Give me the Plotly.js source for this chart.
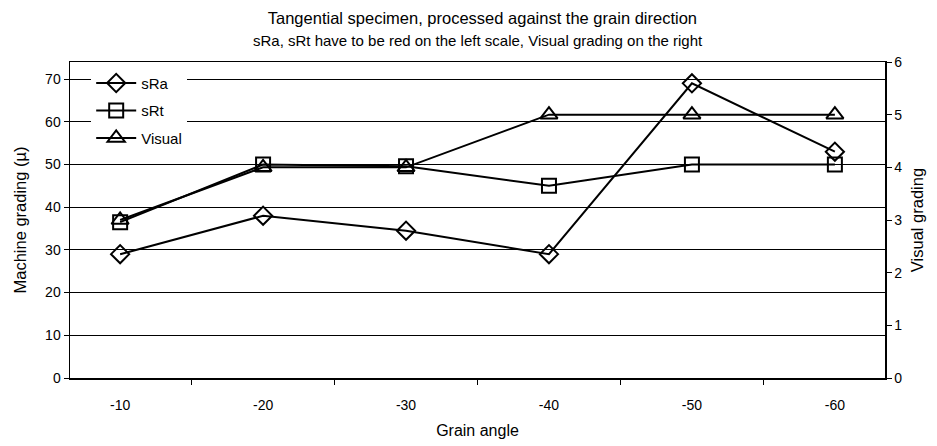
<!DOCTYPE html>
<html>
<head>
<meta charset="utf-8">
<script src="https://cdn.plot.ly/plotly-3.0.1.min.js"></script>
<style>html,body{margin:0;padding:0;background:#fff;}#chart{width:937px;height:446px;}</style>
</head>
<body>
<div id="chart"></div>
<script>
const categories = ["-10", "-20", "-30", "-40", "-50", "-60"];
const sRa = [29, 38, 34.5, 29, 69, 53];
const sRt = [36.5, 50, 49.6, 45, 50, 50];
const visual = [3, 4, 4, 5, 5, 5];

const font = "Liberation Sans, Arial, sans-serif";
const traces = [
  {x: categories, y: sRa, name: "sRa", type: "scatter", mode: "lines+markers", legendgroup: "a",
   line: {color: "#000", width: 2}, marker: {symbol: "diamond-open", size: 14, color: "#000", line: {width: 2, color: "#000"}}},
  {x: categories, y: sRt, name: "sRt", type: "scatter", mode: "lines+markers", legendgroup: "b",
   line: {color: "#000", width: 2}, marker: {symbol: "square-open", size: 14, color: "#000", line: {width: 2, color: "#000"}}},
  {x: categories, y: visual, name: "Visual", type: "scatter", mode: "lines+markers", yaxis: "y2", legendgroup: "c",
   line: {color: "#000", width: 2}, marker: {symbol: "triangle-up-open", size: 15, color: "#000", line: {width: 2, color: "#000"}}}
];

const layout = {
  width: 937, height: 446,
  margin: {l: 70, r: 52, t: 62, b: 68},
  paper_bgcolor: "#fff", plot_bgcolor: "#fff",
  font: {family: font, color: "#000", size: 14},
  title: {
    text: "Tangential specimen, processed against the grain direction",
    font: {family: font, size: 16.5, color: "#000"},
    x: 0.506, xref: "paper", y: 1 - 18 / 446, yref: "container", yanchor: "middle"
  },
  annotations: [{
    text: "sRa, sRt have to be red on the left scale, Visual grading on the right",
    xref: "paper", yref: "paper", x: 0.5, y: 1, yshift: 22,
    xanchor: "center", yanchor: "middle", showarrow: false,
    font: {family: font, size: 15, color: "#000"}
  }],
  xaxis: {
    type: "category",
    title: {text: "Grain angle", font: {size: 16}, standoff: 12},
    showline: true, linecolor: "#000", linewidth: 1.5, mirror: true,
    ticks: "outside", tickson: "boundaries", ticklen: 5, tickcolor: "#000",
    ticklabelstandoff: 14,
    showgrid: false, zeroline: false,
    tickfont: {size: 14}
  },
  yaxis: {
    range: [0, 74], dtick: 10,
    title: {text: "Machine grading (µ)", font: {size: 16.5}, standoff: 14},
    showline: true, linecolor: "#000", linewidth: 1.5,
    ticks: "outside", ticklen: 5, tickcolor: "#000",
    showgrid: true, gridcolor: "#000", gridwidth: 1, zeroline: false,
    tickfont: {size: 14}
  },
  yaxis2: {
    range: [0, 6], dtick: 1, overlaying: "y", side: "right",
    title: {text: "Visual grading", font: {size: 16.5}, standoff: 10},
    showline: true, linecolor: "#000", linewidth: 1.5,
    ticks: "outside", ticklen: 5, tickcolor: "#000",
    showgrid: false, zeroline: false,
    tickfont: {size: 14}
  },
  showlegend: true,
  legend: {
    x: 0.026, y: 0.985, xanchor: "left", yanchor: "top",
    bgcolor: "#fff", borderwidth: 0,
    font: {size: 15, color: "#000"},
    tracegroupgap: 5, itemwidth: 40
  }
};

Plotly.newPlot("chart", traces, layout, {displayModeBar: false, staticPlot: true});
</script>
</body>
</html>
